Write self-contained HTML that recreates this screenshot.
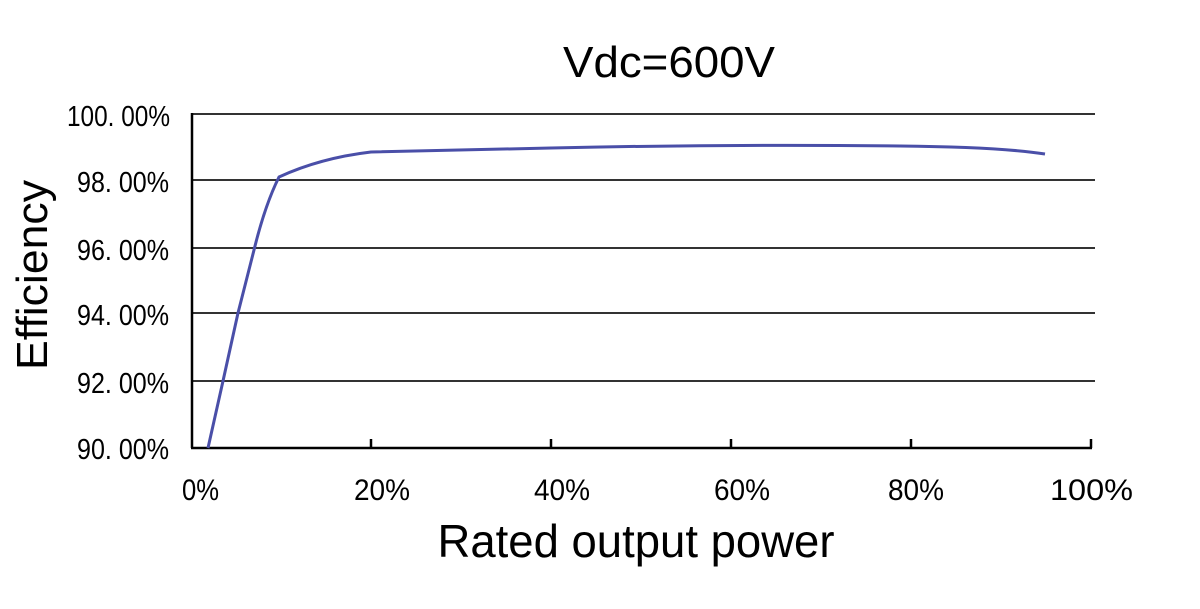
<!DOCTYPE html>
<html><head><meta charset="utf-8"><style>
html,body{margin:0;padding:0;background:#fff;}
</style></head><body>
<svg width="1200" height="604" viewBox="0 0 1200 604" xmlns="http://www.w3.org/2000/svg">
<rect width="1200" height="604" fill="#fff"/>
<text x="669" y="77" font-family="Liberation Sans, sans-serif" font-size="44" text-anchor="middle" fill="#000" textLength="212" lengthAdjust="spacingAndGlyphs">Vdc=600V</text>
<g stroke="#333" stroke-width="2">
<line x1="192" y1="114" x2="1095" y2="114"/>
<line x1="192" y1="180" x2="1095" y2="180"/>
<line x1="192" y1="248" x2="1095" y2="248"/>
<line x1="192" y1="313" x2="1095" y2="313"/>
<line x1="192" y1="381" x2="1095" y2="381"/>
</g>
<g stroke="#000" stroke-width="2.5">
<line x1="192" y1="113" x2="192" y2="448"/>
<line x1="191" y1="448" x2="1092" y2="448"/>
<line x1="371" y1="439" x2="371" y2="448"/>
<line x1="551" y1="439" x2="551" y2="448"/>
<line x1="731" y1="439" x2="731" y2="448"/>
<line x1="911" y1="439" x2="911" y2="448"/>
<line x1="1091" y1="439" x2="1091" y2="448"/>
</g>
<g font-family="Liberation Sans, sans-serif" font-size="29" fill="#000" lengthAdjust="spacingAndGlyphs">
<text x="67" y="126" textLength="103" lengthAdjust="spacingAndGlyphs">100. 00%</text>
<text x="77" y="192" textLength="92" lengthAdjust="spacingAndGlyphs">98. 00%</text>
<text x="77" y="260" textLength="92" lengthAdjust="spacingAndGlyphs">96. 00%</text>
<text x="77" y="325" textLength="92" lengthAdjust="spacingAndGlyphs">94. 00%</text>
<text x="77" y="393" textLength="92" lengthAdjust="spacingAndGlyphs">92. 00%</text>
<text x="77" y="459" textLength="92" lengthAdjust="spacingAndGlyphs">90. 00%</text>
</g>
<g font-family="Liberation Sans, sans-serif" font-size="30" fill="#000">
<text x="182" y="500" textLength="37" lengthAdjust="spacingAndGlyphs">0%</text>
<text x="354" y="500" textLength="56" lengthAdjust="spacingAndGlyphs">20%</text>
<text x="534" y="500" textLength="56" lengthAdjust="spacingAndGlyphs">40%</text>
<text x="714" y="500" textLength="56" lengthAdjust="spacingAndGlyphs">60%</text>
<text x="888" y="500" textLength="56" lengthAdjust="spacingAndGlyphs">80%</text>
<text x="1050" y="500" textLength="83" lengthAdjust="spacingAndGlyphs">100%</text>
</g>
<path d="M208,448 L223,381 L238,313 L254,250 Q265,205 279,177 Q320,158 371,152 L551,148 Q731,144 900,146 Q1000,147 1045,154" fill="none" stroke="#4a4fa8" stroke-width="3"/>
<text x="636" y="557" font-family="Liberation Sans, sans-serif" font-size="46" text-anchor="middle" fill="#000" textLength="397" lengthAdjust="spacingAndGlyphs">Rated output power</text>
<text transform="translate(47,275) rotate(-90)" font-family="Liberation Sans, sans-serif" font-size="44" text-anchor="middle" fill="#000" textLength="190" lengthAdjust="spacingAndGlyphs">Efficiency</text>
</svg>
</body></html>
